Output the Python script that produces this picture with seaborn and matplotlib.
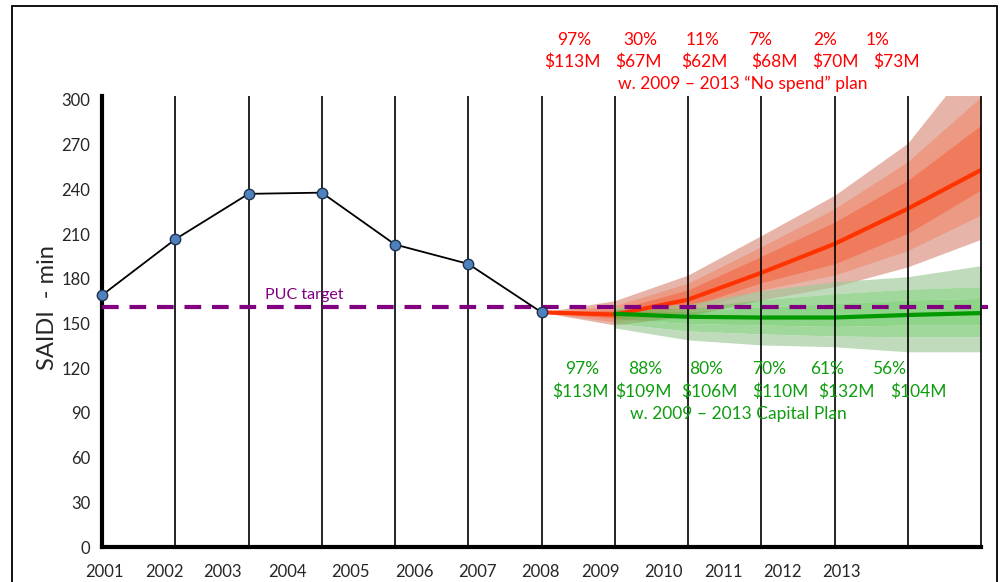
import seaborn as sns
import matplotlib.pyplot as plt
from matplotlib.patches import Rectangle

sns.set_style("white")
plt.rcParams["font.family"] = ["Lato", "DejaVu Sans"]

# x axis: the chart grid has 13 vertical lines, data sit on them (index 0..12)
year_labels = ["2001", "2002", "2003", "2004", "2005", "2006", "2007",
               "2008", "2009", "2010", "2011", "2012", "2013"]
label_pos = [0.03, 0.85, 1.645, 2.53, 3.39, 4.26, 5.13,
             5.99, 6.81, 7.67, 8.48, 9.29, 10.10]

# historical SAIDI
hist_x = [0, 1, 2, 3, 4, 5, 6]
hist_saidi = [169, 206.5, 237, 237.8, 203, 190, 157.5]

puc_target = 161

# "No spend" projection
nospend_x = [6, 7, 8, 9, 10, 11, 12]
nospend_mid = [157.5, 156, 166, 184, 203.4, 227, 253]
nospend_in_lo = [157.5, 153.5, 161, 177.4, 190, 210.5, 239.6]
nospend_in_hi = [157.5, 159, 172.5, 195, 218, 246, 283]
nospend_md_lo = [157.5, 151, 158, 172.5, 182.5, 199, 222.8]
nospend_md_hi = [157.5, 162, 177, 201.5, 227, 258.6, 302]
nospend_out_lo = [157.5, 149, 155, 165.8, 174.7, 188, 206.5]
nospend_out_hi = [157.5, 165.3, 182.5, 209, 236, 271, 333]

# Capital plan projection
capital_x = [7, 8, 9, 10, 11, 12]
capital_mid = [156.5, 154.5, 154, 154, 155.7, 157]
capital_in_lo = [153, 150, 149, 148, 149, 149]
capital_in_hi = [158, 158, 161, 163.5, 165.8, 166.8]
capital_md_lo = [150, 145, 143, 141.6, 141, 141]
capital_md_hi = [159.5, 160, 166, 170, 173, 174.7]
capital_out_lo = [147, 139, 135.6, 134.4, 131, 131]
capital_out_hi = [161, 163, 172, 178, 181.4, 188.8]

# annotations
nospend_pct = ["97%", "30%", "11%", "7%", "2%", "1%"]
nospend_cost = ["$113M", "$67M", "$62M", "$68M", "$70M", "$73M"]
capital_pct = ["97%", "88%", "80%", "70%", "61%", "56%"]
capital_cost = ["$113M", "$109M", "$106M", "$110M", "$132M", "$104M"]

W, H = 1000, 582
fig = plt.figure(figsize=(10, 5.82), dpi=100)
ax = fig.add_axes([0.102, (H - 547) / H, 0.879, (547 - 95.5) / H])


def px(x, y):
    return x / W, 1 - y / H


# red fan (opaque layers)
ax.fill_between(nospend_x, nospend_out_lo, nospend_out_hi, color="#e6b4a8", lw=0, zorder=1)
ax.fill_between(nospend_x, nospend_md_lo, nospend_md_hi, color="#ec9a84", lw=0, zorder=1)
ax.fill_between(nospend_x, nospend_in_lo, nospend_in_hi, color="#f07a5c", lw=0, zorder=1)

# green fan (translucent strips drawn over the red one)
g_alpha = 0.65
ax.fill_between(capital_x, capital_md_hi, capital_out_hi, color="#9ec998", alpha=g_alpha, lw=0, zorder=2)
ax.fill_between(capital_x, capital_in_hi, capital_md_hi, color="#6dc367", alpha=g_alpha, lw=0, zorder=2)
ax.fill_between(capital_x, capital_in_lo, capital_in_hi, color="#51bd4a", alpha=g_alpha, lw=0, zorder=2)
ax.fill_between(capital_x, capital_md_lo, capital_in_lo, color="#6dc367", alpha=g_alpha, lw=0, zorder=2)
ax.fill_between(capital_x, capital_out_lo, capital_md_lo, color="#9ec998", alpha=g_alpha, lw=0, zorder=2)

sns.lineplot(x=nospend_x, y=nospend_mid, color="#ff3300", lw=3, ax=ax, zorder=3)
sns.lineplot(x=capital_x, y=capital_mid, color="#009900", lw=3, ax=ax, zorder=3)

# vertical grid lines
ax.vlines(range(1, 13), 0, 303, colors="black", lw=1.2, zorder=4, clip_on=False)

# PUC target
ax.plot([0, 12.1], [puc_target, puc_target], color="#800080", lw=3,
        dashes=(4, 2.6), zorder=5, clip_on=False)

sns.lineplot(x=hist_x, y=hist_saidi, color="black", lw=1.3, marker="o",
             markersize=7.5, markerfacecolor="#4f81bd", markeredgecolor="#1f3450",
             markeredgewidth=1.0, ax=ax, zorder=6)
for line in ax.lines[-1:]:
    line.set_clip_on(False)

ax.set_xlim(0, 12)
ax.set_ylim(0, 303)
ax.set_yticks(range(0, 301, 30))
ax.set_xticks(label_pos)
ax.set_xticklabels(year_labels)
ax.tick_params(axis="y", length=0, pad=8.5, labelsize=12)
ax.tick_params(axis="x", length=0, pad=12, labelsize=12)
for s in ["top", "right"]:
    ax.spines[s].set_visible(False)
ax.spines["left"].set_linewidth(3)
ax.spines["bottom"].set_linewidth(3)
ax.spines["left"].set_color("black")
ax.spines["bottom"].set_color("black")
ax.grid(False)

# text
fig.text(*px(47, 308), "SAIDI  - min", rotation=90, ha="center", va="center", fontsize=17)
fig.text(*px(304, 295), "PUC target", color="#800080", ha="center", va="center", fontsize=11.5)

red = "#ff0000"
for t, x in zip(nospend_pct, [574, 640, 703, 760, 825, 878]):
    fig.text(*px(x, 40), t, color=red, ha="center", va="center", fontsize=12.5)
for t, x in zip(nospend_cost, [572, 638, 704, 774, 835, 896]):
    fig.text(*px(x, 62), t, color=red, ha="center", va="center", fontsize=12.5)
fig.text(*px(743, 84), "w. 2009 \u2013 2013 \u201cNo spend\u201d plan", color=red,
         ha="center", va="center", fontsize=12.5)

green = "#0f9d0f"
for t, x in zip(capital_pct, [582, 645, 706, 769, 827, 889]):
    fig.text(*px(x, 369), t, color=green, ha="center", va="center", fontsize=12.5)
for t, x in zip(capital_cost, [580, 643, 709, 780, 846, 918]):
    fig.text(*px(x, 392), t, color=green, ha="center", va="center", fontsize=12.5)
fig.text(*px(738, 414), "w. 2009 \u2013 2013 Capital Plan", color=green,
         ha="center", va="center", fontsize=12.5)

# outer frame
fig.patches.append(Rectangle((12 / W, -0.05), 985 / W, 1.05 - 6 / H, fill=False,
                             lw=1.3, edgecolor="black", transform=fig.transFigure))

fig.savefig("out.png", dpi=100)
